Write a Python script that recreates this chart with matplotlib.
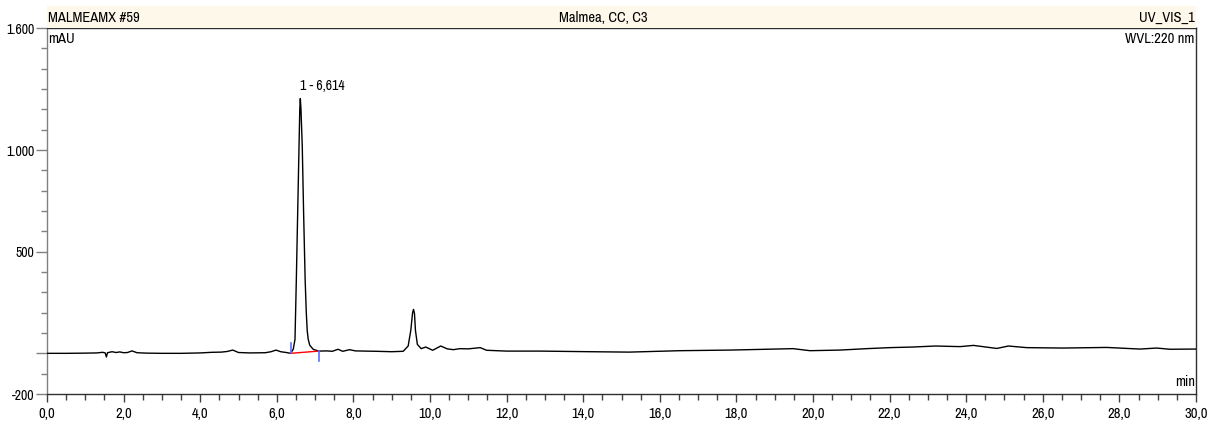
import matplotlib
matplotlib.use("Agg")
import logging
import matplotlib.pyplot as plt
from matplotlib.patches import Rectangle
from matplotlib.ticker import FixedLocator, MultipleLocator

logging.getLogger('matplotlib.font_manager').setLevel(logging.ERROR)
plt.rcParams['font.family'] = ['Liberation Sans Narrow', 'Arial Narrow', 'Archivo Narrow',
                               'PT Sans Narrow', 'Roboto Condensed', 'Liberation Sans', 'DejaVu Sans']

# chromatogram trace (min, mAU)
time_min = [0.0, 0.5, 1.0, 1.3, 1.45, 1.52, 1.55, 1.58, 1.7, 1.8, 1.9, 2.0, 2.1, 2.22, 2.35,
            2.6, 3.0, 3.5, 4.0, 4.3, 4.55, 4.7, 4.85, 5.0, 5.3, 5.7, 5.85, 5.98, 6.1, 6.25,
            6.36, 6.43, 6.475, 6.51, 6.545, 6.58, 6.60, 6.614, 6.63, 6.665, 6.70, 6.74, 6.77,
            6.795, 6.82, 6.86, 6.95, 7.09, 7.3, 7.45, 7.6, 7.72, 7.9, 8.05, 8.3, 8.6, 9.0, 9.3,
            9.43, 9.50, 9.545, 9.57, 9.595, 9.62, 9.67, 9.77, 9.89, 10.07, 10.28, 10.45, 10.61,
            10.78, 11.0, 11.31, 11.48, 12.0, 12.87, 14.18, 15.2, 16.53, 17.83, 19.48, 19.92,
            20.7, 21.4, 22.0, 22.6, 23.2, 23.84, 24.19, 24.8, 25.1, 25.58, 26.53, 27.67, 28.54,
            28.97, 29.32, 29.92, 30.0]
signal_mau = [0, 0, 1, 2, 5, 2, -18, 3, 8, 4, 7, 3, 4, 12, 3,
              1, 0, 0, 2, 5, 6, 9, 16, 4, 2, 3, 8, 16, 8, 4,
              0, 20, 69, 363, 691, 1016, 1200, 1253, 1205, 1016, 691, 363, 200,
              110, 69, 40, 20, 11, 12, 10, 20, 10, 18, 12, 11, 10, 8, 10,
              36, 115, 200, 216, 195, 113, 44, 23, 31, 15, 36, 22, 18,
              23, 22, 28, 15, 11, 11, 8, 6, 13, 16, 23, 13,
              16, 23, 28, 31, 36, 33, 39, 24, 36, 28, 26, 29, 21,
              26, 20, 21, 21]

# integration of peak 1
peak_label = "1 - 6,614"
peak_time = 6.614
peak_height = 1253
int_start = (6.36, 0)
int_end = (7.09, 11)

y_major = [-200, 0, 500, 1000, 1600]
y_labels = ['-200', '', '500', '1.000', '1.600']
x_major = list(range(0, 31, 2))
x_labels = [f"{v},0" for v in x_major]

fig = plt.figure(figsize=(12.09, 4.26), dpi=100)
ax = fig.add_axes([47 / 1209, 1 - 394 / 426, 1149 / 1209, 366 / 426])

ax.plot(time_min, signal_mau, color='black', lw=1.0, zorder=3)

# baseline and delimiters
ax.plot([int_start[0], int_end[0]], [int_start[1], int_end[1]], color='red', lw=1.0, zorder=4)
ax.plot([int_start[0], int_start[0]], [int_start[1], int_start[1] + 50], color='#5a6cff', lw=1.2, zorder=4)
ax.plot([int_end[0], int_end[0]], [int_end[1], int_end[1] - 50], color='#5a6cff', lw=1.2, zorder=4)

ax.text(peak_time, peak_height + 25, peak_label, fontsize=10, ha='left', va='bottom')

ax.set_xlim(0, 30)
ax.set_ylim(-200, 1600)
ax.yaxis.set_major_locator(FixedLocator(y_major))
ax.set_yticklabels(y_labels)
ax.yaxis.set_minor_locator(MultipleLocator(100))
ax.xaxis.set_major_locator(FixedLocator(x_major))
ax.set_xticklabels(x_labels)
ax.xaxis.set_minor_locator(MultipleLocator(0.5))

ax.tick_params(axis='y', which='major', length=8, width=1, color='#808080', labelsize=10, pad=1)
ax.tick_params(axis='y', which='minor', length=4, width=1, color='#808080')
ax.tick_params(axis='x', which='major', length=6, width=1, color='#404040', labelsize=10.5, pad=3)
ax.tick_params(axis='x', which='minor', length=4.5, width=1, color='#404040')

ax.spines['left'].set_color('#808080')
ax.spines['bottom'].set_color('#303030')
ax.spines['top'].set_color('#303030')
ax.spines['right'].set_color('#303030')
for s in ax.spines.values():
    s.set_linewidth(1.0)

# header band
fig.patches.append(Rectangle((47 / 1209, 1 - 28 / 426), 1149 / 1209, 22 / 426,
                             transform=fig.transFigure, facecolor='#fdf8ea', edgecolor='none', zorder=0))
fig.text(48 / 1209, 1 - 18 / 426, "MALMEAMX #59", fontsize=10.5, ha='left', va='center')
fig.text(603 / 1209, 1 - 18 / 426, "Malmea, CC, C3", fontsize=10.5, ha='center', va='center')
fig.text(1195 / 1209, 1 - 18 / 426, "UV_VIS_1", fontsize=10.5, ha='right', va='center')

ax.text(0.001, 0.99, "mAU", transform=ax.transAxes, fontsize=10.5, ha='left', va='top')
ax.text(0.999, 0.99, "WVL:220 nm", transform=ax.transAxes, fontsize=10.5, ha='right', va='top')
ax.text(0.999, 0.015, "min", transform=ax.transAxes, fontsize=10.5, ha='right', va='bottom')

fig.savefig("out.png", dpi=100)
